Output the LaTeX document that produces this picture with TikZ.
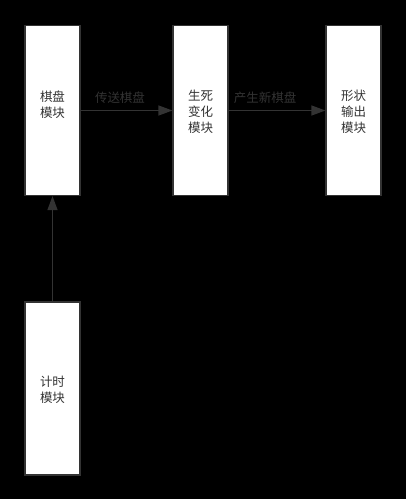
\documentclass[tikz,border=0pt]{standalone}
\usepackage{fontspec}
\newfontfamily\cjk{Noto Sans CJK SC}
\usetikzlibrary{arrows.meta}
\definecolor{dk}{HTML}{333333}
\tikzset{
  x=1pt,y=-1pt,
  modbox/.style={draw=dk,line width=1.2pt,fill=white,minimum width=55pt,minimum height=170pt,inner sep=0pt},
  modtext/.style={font=\cjk\fontsize{12.5}{16}\selectfont,text=dk,align=center,inner sep=0pt},
  lbl/.style={font=\cjk\fontsize{12.5}{15}\selectfont,text=dk,inner sep=0pt},
  conn/.style={draw=dk,line width=1.2pt,-{Triangle[length=14pt,width=10pt]}}
}
\begin{document}
\begin{tikzpicture}
\useasboundingbox[fill=black] (0,0) rectangle (406,499);
\node[modbox] (board) at (52.5,110.5) {};
\node[modbox] (life) at (200.5,110.5) {};
\node[modbox] (shape) at (353.5,110.5) {};
\node[modbox,minimum height=173pt] (timer) at (52.5,388.5) {};
\node[modtext] (tboard) at (52.5,105) {棋盘\\模块};
\node[modtext] (tlife) at (200.5,112) {生死\\变化\\模块};
\node[modtext] (tshape) at (353.5,112) {形状\\输出\\模块};
\node[modtext] (ttimer) at (52.5,390) {计时\\模块};
\draw[conn] (board.east) -- (life.west);
\draw[conn] (life.east) -- (shape.west);
\draw[conn] (timer.north) -- (board.south);
\node[lbl] (l1) at (120,97.5) {传送棋盘};
\node[lbl] (l2) at (265,97.5) {产生新棋盘};
\end{tikzpicture}
\end{document}
